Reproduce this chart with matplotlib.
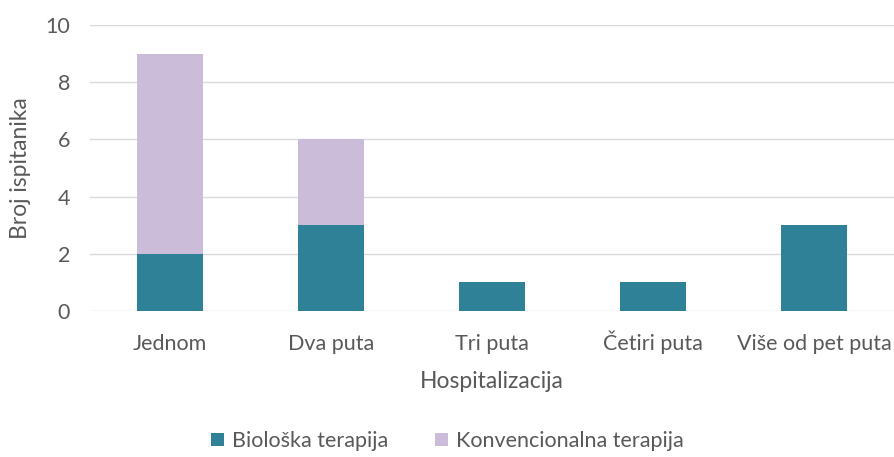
import numpy as np
import matplotlib.pyplot as plt

kategorije = ['Jednom', 'Dva puta', 'Tri puta', 'Četiri puta', 'Više od pet puta']
bioloska = [2, 3, 1, 1, 3]
konvencionalna = [7, 3, 0, 0, 0]

plt.rcParams['font.family'] = ['Lato', 'DejaVu Sans']
siva = '#595959'

fig = plt.figure(figsize=(8.95, 4.57), dpi=100)
ax = fig.add_axes([89.5/895, 1 - 311/457, 805/895, 286/457])

x = np.arange(len(kategorije))
w = 0.41
ax.bar(x, bioloska, w, color='#2E8196', label='Biološka terapija', zorder=3)
ax.bar(x, konvencionalna, w, bottom=bioloska, color='#CBBDD9',
       label='Konvencionalna terapija', zorder=3)

ax.set_xlim(-0.5, len(kategorije) - 0.5)
ax.set_ylim(0, 10)
ax.set_yticks(range(0, 11, 2))
ax.yaxis.grid(True, color='#D9D9D9', linewidth=1, zorder=0)
for s in ax.spines.values():
    s.set_visible(False)
ax.tick_params(length=0, colors=siva, labelsize=15.5)
ax.tick_params(axis='y', pad=14)
ax.set_xticks(x)
ax.set_xticklabels(kategorije)
for t in ax.get_xticklabels():
    t.set_va('baseline')
ax.tick_params(axis='x', pad=28)
ax.set_xlabel('Hospitalizacija', color=siva, fontsize=16.5, labelpad=12)
ax.set_ylabel('Broj ispitanika', color=siva, fontsize=16.5, labelpad=10)

leg = fig.legend(loc='center', bbox_to_anchor=(0.5, 1 - 441/457), ncol=2,
                 frameon=False, fontsize=15.5, handlelength=0.6, handleheight=0.6,
                 handletextpad=0.35, columnspacing=2.2)
for t in leg.get_texts():
    t.set_color(siva)

fig.savefig('out.png', dpi=100)
